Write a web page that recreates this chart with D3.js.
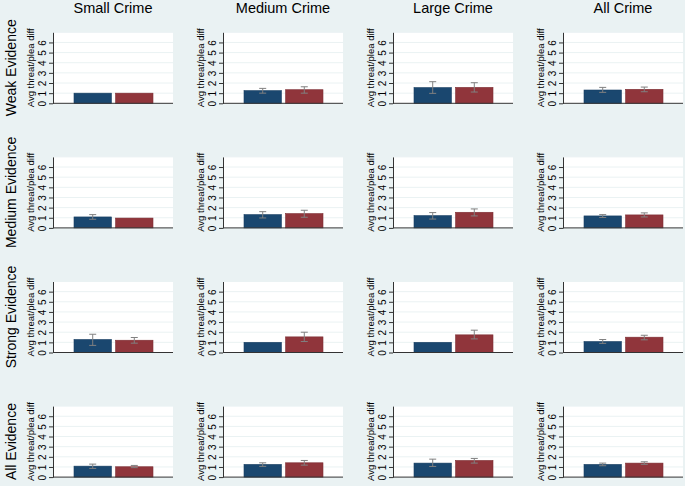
<!DOCTYPE html>
<html>
<head>
<meta charset="utf-8">
<script src="https://cdn.jsdelivr.net/npm/d3@7"></script>
<style>
  body { margin: 0; background: #eaf2f3; }
  text { font-family: Arial, "Liberation Sans", sans-serif; fill: #000; }
</style>
</head>
<body>
<div class="chart"></div>
<script>
var svgWidth = 685;
var svgHeight = 486;

// Data: rows = evidence level, columns = crime size
var crimes = ["Small Crime", "Medium Crime", "Large Crime", "All Crime"];
var evidence = ["Weak Evidence", "Medium Evidence", "Strong Evidence", "All Evidence"];
var yTicks = [0, 1, 2, 3, 4, 5, 6];
var yTitle = "Avg threat/plea diff";

// blue series (mean, lower CI, upper CI); null = no error bar
var blueMean = [
  [1.00, 1.25, 1.55, 1.31],
  [1.08, 1.31, 1.21, 1.18],
  [1.28, 1.00, 1.00, 1.08],
  [1.08, 1.25, 1.38, 1.25]
];
var blueLo = [
  [null, 1.00, 0.98, 1.08],
  [0.85, 0.98, 0.87, 1.03],
  [0.70, null, null, 0.90],
  [0.86, 1.06, 1.05, 1.12]
];
var blueHi = [
  [null, 1.47, 2.13, 1.57],
  [1.31, 1.60, 1.51, 1.31],
  [1.80, null, null, 1.28],
  [1.28, 1.41, 1.77, 1.38]
];

// red series
var redMean = [
  [1.00, 1.34, 1.57, 1.38],
  [0.97, 1.41, 1.54, 1.28],
  [1.21, 1.54, 1.74, 1.51],
  [1.02, 1.41, 1.64, 1.38]
];
var redLo = [
  [null, 1.00, 1.11, 1.14],
  [null, 1.05, 1.18, 1.08],
  [0.92, 1.08, 1.34, 1.25],
  [0.93, 1.18, 1.38, 1.26]
];
var redHi = [
  [null, 1.63, 2.03, 1.60],
  [null, 1.74, 1.87, 1.48],
  [1.48, 2.00, 2.20, 1.70],
  [1.15, 1.64, 1.84, 1.51]
];

var seriesKeys = ["blue", "red"];
var fillColor = { blue: "#1a476f", red: "#90353b" };
var lineColor = { blue: "#163d60", red: "#7c2d33" };

// layout
var firstLeft = 53, colStep = 170;
var firstTop = 32.3, rowStep = 124.6;
var plotW = 120, plotH = 71;

var svg = d3.select(".chart")
  .append("svg")
  .attr("width", svgWidth)
  .attr("height", svgHeight);

svg.append("rect")
  .attr("width", svgWidth)
  .attr("height", svgHeight)
  .attr("fill", "#eaf2f3");

var yScale = d3.scaleLinear().domain([0, 7]).range([plotH, 0]);
var xScale = d3.scaleBand()
  .domain(seriesKeys)
  .range([21, 100])
  .paddingInner(0.1);

// column titles
svg.selectAll(".colTitle")
  .data(crimes)
  .enter()
  .append("text")
  .attr("class", "colTitle")
  .attr("x", (d, i) => firstLeft + i * colStep + plotW / 2)
  .attr("y", 13)
  .attr("text-anchor", "middle")
  .attr("font-size", "14.5px")
  .text(d => d);

// row titles
svg.selectAll(".rowTitle")
  .data(evidence)
  .enter()
  .append("text")
  .attr("class", "rowTitle")
  .attr("transform", (d, j) => `translate(16, ${firstTop + j * rowStep + plotH / 2}) rotate(-90)`)
  .attr("text-anchor", "middle")
  .attr("font-size", "14px")
  .text(d => d);

evidence.forEach(function(ev, j) {
  crimes.forEach(function(cr, i) {
    var g = svg.append("g")
      .attr("transform", `translate(${firstLeft + i * colStep}, ${firstTop + j * rowStep})`);

    g.append("rect")
      .attr("width", plotW)
      .attr("height", plotH)
      .attr("fill", "#fff");

    // gridlines
    g.selectAll(".grid")
      .data(yTicks.slice(1).concat([7]))
      .enter()
      .append("line")
      .attr("x1", 0)
      .attr("x2", plotW)
      .attr("y1", d => yScale(d))
      .attr("y2", d => yScale(d))
      .attr("stroke", "#eaf2f3")
      .attr("stroke-width", 1);

    var bars = seriesKeys.map(function(k) {
      return {
        key: k,
        mean: k === "blue" ? blueMean[j][i] : redMean[j][i],
        lo: k === "blue" ? blueLo[j][i] : redLo[j][i],
        hi: k === "blue" ? blueHi[j][i] : redHi[j][i]
      };
    });

    g.selectAll(".bar")
      .data(bars)
      .enter()
      .append("rect")
      .attr("x", d => xScale(d.key))
      .attr("y", d => yScale(d.mean))
      .attr("width", xScale.bandwidth())
      .attr("height", d => yScale(0) - yScale(d.mean))
      .attr("fill", d => fillColor[d.key])
      .attr("stroke", d => lineColor[d.key])
      .attr("stroke-width", 0.6);

    // error bars
    var errs = bars.filter(d => d.lo !== null);
    var cap = 3.5;
    var eb = g.selectAll(".err")
      .data(errs)
      .enter()
      .append("g")
      .attr("stroke", "#808080")
      .attr("stroke-width", 1);
    eb.append("line")
      .attr("x1", d => xScale(d.key) + xScale.bandwidth() / 2)
      .attr("x2", d => xScale(d.key) + xScale.bandwidth() / 2)
      .attr("y1", d => yScale(d.lo))
      .attr("y2", d => yScale(d.hi));
    eb.append("line")
      .attr("x1", d => xScale(d.key) + xScale.bandwidth() / 2 - cap)
      .attr("x2", d => xScale(d.key) + xScale.bandwidth() / 2 + cap)
      .attr("y1", d => yScale(d.hi))
      .attr("y2", d => yScale(d.hi));
    eb.append("line")
      .attr("x1", d => xScale(d.key) + xScale.bandwidth() / 2 - cap)
      .attr("x2", d => xScale(d.key) + xScale.bandwidth() / 2 + cap)
      .attr("y1", d => yScale(d.lo))
      .attr("y2", d => yScale(d.lo));

    // y axis
    var leftAxis = d3.axisLeft(yScale)
      .tickValues(yTicks)
      .tickFormat(d3.format("d"))
      .tickSize(4)
      .tickPadding(2)
      .tickSizeOuter(0);
    var ax = g.append("g").call(leftAxis);
    ax.select(".domain").attr("stroke", "#333");
    ax.selectAll(".tick line").attr("stroke", "#333");
    ax.selectAll(".tick text")
      .attr("font-size", "10px")
      .attr("font-family", "Arial, 'Liberation Sans', sans-serif")
      .attr("transform", "rotate(-90)")
      .attr("x", 0)
      .attr("y", -7)
      .attr("dy", 0)
      .attr("text-anchor", "middle");

    // x axis line
    g.append("line")
      .attr("x1", 0)
      .attr("x2", plotW)
      .attr("y1", yScale(0))
      .attr("y2", yScale(0))
      .attr("stroke", "#333");

    // y title
    g.append("text")
      .attr("transform", `translate(-19, ${plotH / 2}) rotate(-90)`)
      .attr("text-anchor", "middle")
      .attr("font-size", "9.5px")
      .text(yTitle);
  });
});
</script>
</body>
</html>
